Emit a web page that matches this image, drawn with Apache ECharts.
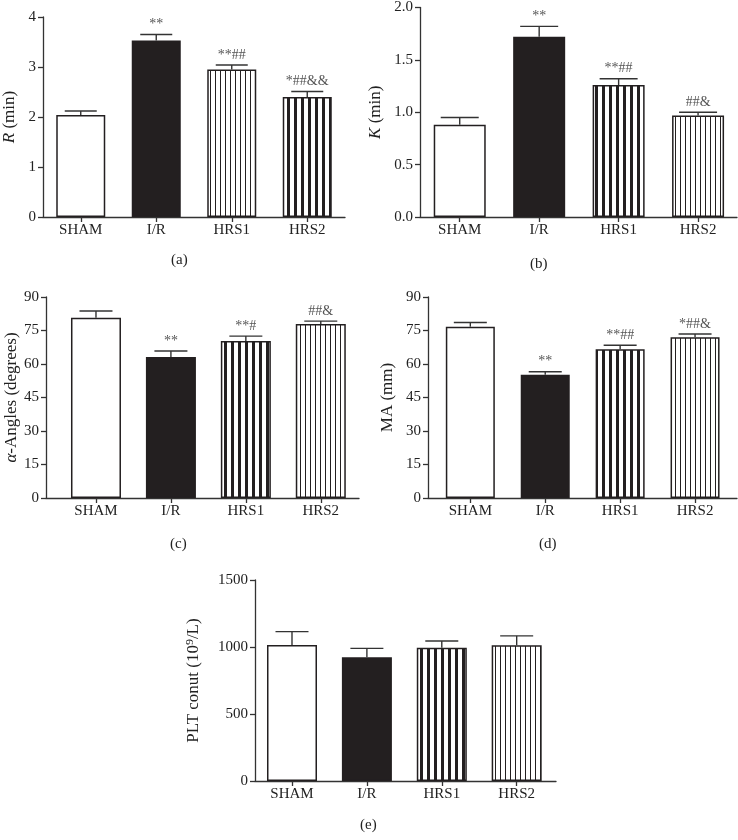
<!DOCTYPE html>
<html><head><meta charset="utf-8">
<script src="https://cdn.jsdelivr.net/npm/echarts@6/dist/echarts.min.js"></script>
<style>html,body{margin:0;padding:0;background:#fff}#c{width:738px;height:840px}</style>
</head><body><div id="c"></div>
<script>
// ---- data ----
const categories = ['SHAM', 'I/R', 'HRS1', 'HRS2'];

const rMean = [2.04, 3.53, 2.95, 2.40];
const rSem  = [0.08, 0.12, 0.09, 0.11];
const rSig  = ['', '**', '**##', '*##&&'];
const rTicks = [0, 1, 2, 3, 4];

const kMean = [0.88, 1.72, 1.26, 0.97];
const kSem  = [0.07, 0.10, 0.06, 0.03];
const kSig  = ['', '**', '**##', '##&'];
const kTicks = [0, 0.5, 1.0, 1.5, 2.0];

const angleMean = [80.7, 63.1, 70.3, 77.9];
const angleSem  = [3.0, 2.7, 2.2, 1.3];
const angleSig  = ['', '**', '**#', '##&'];
const angleTicks = [0, 15, 30, 45, 60, 75, 90];

const maMean = [76.7, 55.2, 66.6, 72.0];
const maSem  = [1.9, 1.3, 1.8, 1.4];
const maSig  = ['', '**', '**##', '*##&'];
const maTicks = [0, 15, 30, 45, 60, 75, 90];

const pltMean = [1015, 924, 995, 1013];
const pltSem  = [100, 66, 50, 70];
const pltSig  = ['', '', '', ''];
const pltTicks = [0, 500, 1000, 1500];

// ---- styling helpers ----
const FONT = '"Liberation Serif", "DejaVu Serif", serif';
const INK = '#231f20';
function stripe(period, lineW) {
  const c = document.createElement('canvas');
  c.width = period; c.height = 4;
  const g = c.getContext('2d');
  g.fillStyle = '#ffffff'; g.fillRect(0, 0, period, 4);
  g.fillStyle = INK; g.fillRect(0, 0, lineW, 4);
  return { image: c, repeat: 'repeat' };
}
const FILLS = { white: '#ffffff', black: INK, thin: stripe(5, 1), thick: stripe(7, 3) };

const panels = [
  { mean: rMean, sem: rSem, sig: rSig, ticks: rTicks, dec: 0, name: '{i|R} (min)',
    fills: ['white', 'black', 'thin', 'thick'],
    grid: { left: 43, top: 17, width: 302, height: 200 }, xMin: -0.5, xMax: 3.5, barW: 49, capW: 32,
    nameGap: 25, label: '(a)', labelPos: [181, 262] },
  { mean: kMean, sem: kSem, sig: kSig, ticks: kTicks, dec: 1, name: '{i|K} (min)',
    fills: ['white', 'black', 'thick', 'thin'],
    grid: { left: 420, top: 6, width: 317, height: 211 }, xMin: -0.5, xMax: 3.49, barW: 52, capW: 38,
    nameGap: 36, label: '(b)', labelPos: [540, 266] },
  { mean: angleMean, sem: angleSem, sig: angleSig, ticks: angleTicks, dec: 0, name: '{i|α}-Angles (degrees)',
    fills: ['white', 'black', 'thick', 'thin'],
    grid: { left: 46, top: 297, width: 313, height: 201 }, xMin: -0.667, xMax: 3.51, barW: 50, capW: 33,
    nameGap: 22, label: '(c)', labelPos: [180, 546] },
  { mean: maMean, sem: maSem, sig: maSig, ticks: maTicks, dec: 0, name: 'MA (mm)',
    fills: ['white', 'black', 'thick', 'thin'],
    grid: { left: 428, top: 297, width: 309, height: 201 }, xMin: -0.565, xMax: 3.56, barW: 49, capW: 33,
    nameGap: 32, label: '(d)', labelPos: [549, 546] },
  { mean: pltMean, sem: pltSem, sig: pltSig, ticks: pltTicks, dec: 0, name: 'PLT conut (10⁹/L)',
    fills: ['white', 'black', 'thick', 'thin'],
    grid: { left: 255, top: 580, width: 301, height: 201 }, xMin: -0.494, xMax: 3.525, barW: 50, capW: 33,
    nameGap: 53, label: '(e)', labelPos: [370, 827] }
];

const axisLineStyle = { color: '#333', width: 1.3 };
const catIdx = categories.map((c, i) => i);

const option = { animation: false, backgroundColor: '#fff', grid: [], xAxis: [], yAxis: [], series: [], graphic: [] };

panels.forEach((p, i) => {
  option.grid.push(Object.assign({ containLabel: false }, p.grid));
  option.xAxis.push({
    type: 'value', gridIndex: i, min: p.xMin, max: p.xMax,
    axisLine: { show: true, onZero: false, lineStyle: axisLineStyle },
    axisTick: { show: true, customValues: catIdx, length: 5, lineStyle: axisLineStyle },
    axisLabel: { show: true, customValues: catIdx, formatter: v => categories[Math.round(v)],
      fontFamily: FONT, fontSize: 15, color: '#222', margin: 6 },
    splitLine: { show: false }
  });
  const tmax = p.ticks[p.ticks.length - 1];
  option.yAxis.push({
    type: 'value', gridIndex: i, min: p.ticks[0], max: tmax, interval: p.ticks[1] - p.ticks[0],
    name: p.name, nameLocation: 'middle', nameRotate: 90, nameGap: p.nameGap,
    nameTextStyle: { fontFamily: FONT, fontSize: 17, color: '#222',
      rich: { i: { fontFamily: FONT, fontSize: 17, fontStyle: 'italic', color: '#222' } } },
    axisLine: { show: true, onZero: false, lineStyle: axisLineStyle },
    axisTick: { show: true, length: 5, lineStyle: axisLineStyle },
    axisLabel: { fontFamily: FONT, fontSize: 15, color: '#222', margin: 7,
      formatter: v => v.toFixed(p.dec) },
    splitLine: { show: false }
  });
  option.series.push({
    type: 'bar', xAxisIndex: i, yAxisIndex: i, barWidth: p.barW,
    data: p.mean.map((m, j) => ({ value: [j, m],
      itemStyle: { color: FILLS[p.fills[j]], borderColor: INK, borderWidth: 1.5 } })),
    z: 2
  });
  const sigs = p.sig;
  const capW = p.capW;
  option.series.push({
    type: 'custom', xAxisIndex: i, yAxisIndex: i, z: 3,
    data: p.mean.map((m, j) => [j, m, m + p.sem[j]]),
    renderItem: (params, api) => {
      const base = api.coord([api.value(0), api.value(1)]);
      const top = api.coord([api.value(0), api.value(2)]);
      const h = capW / 2;
      const st = { stroke: '#333', lineWidth: 1.4 };
      const children = [
        { type: 'line', shape: { x1: base[0], y1: base[1], x2: top[0], y2: top[1] }, style: st },
        { type: 'line', shape: { x1: top[0] - h, y1: top[1], x2: top[0] + h, y2: top[1] }, style: st }
      ];
      const s = sigs[params.dataIndex];
      if (s) children.push({ type: 'text', style: { text: s, x: top[0], y: top[1] - 3,
        align: 'center', verticalAlign: 'bottom', font: '14px ' + FONT, fill: '#555' } });
      return { type: 'group', children };
    }
  });
  option.graphic.push({ type: 'text', left: p.labelPos[0] - 10, top: p.labelPos[1] - 9,
    style: { text: p.label, font: '15px ' + FONT, fill: '#222' } });
});

const chart = echarts.init(document.getElementById('c'));
chart.setOption(option);
</script></body></html>
